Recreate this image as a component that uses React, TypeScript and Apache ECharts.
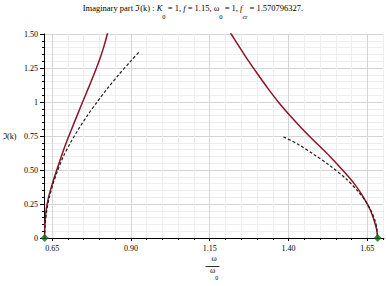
import React, { useEffect, useRef } from "react";
import * as echarts from "echarts";

// axis range (ω/ω0 and ℑ(k))
const xMin = 0.624;
const xMax = 1.703;
const yMin = 0;
const yMax = 1.5;
const xMajorTicks = [0.65, 0.9, 1.15, 1.4, 1.65];
const xMinorTicks = [0.65, 0.7, 0.75, 0.8, 0.85, 0.9, 0.95, 1.0, 1.05, 1.1, 1.15, 1.2, 1.25, 1.3, 1.35, 1.4, 1.45, 1.5, 1.55, 1.6, 1.65, 1.7];
const xTickLabels = ["0.65", "0.90", "1.15", "1.40", "1.65"];
const yTickLabels = ["0", "0.25", "0.50", "0.75", "1", "1.25", "1.50"];

// red solid curve, left branch
const redLeftX = [0.626, 0.6268, 0.6305, 0.6385, 0.6505, 0.6645, 0.679, 0.6945, 0.7115, 0.729, 0.7465, 0.7645, 0.782, 0.7985, 0.813, 0.825, 0.835];
const redLeftY = [0, 0.1, 0.2, 0.3, 0.4, 0.5, 0.6, 0.7, 0.8, 0.9, 1.0, 1.1, 1.2, 1.3, 1.4, 1.5, 1.6];
// red solid curve, right branch
const redRightX = [1.191, 1.218, 1.2455, 1.2735, 1.3035, 1.3345, 1.3675, 1.4045, 1.4445, 1.4875, 1.5315, 1.5715, 1.6085, 1.6375, 1.6605, 1.6755, 1.6805, 1.683];
const redRightY = [1.6, 1.5, 1.4, 1.3, 1.2, 1.1, 1.0, 0.9, 0.8, 0.7, 0.6, 0.5, 0.4, 0.3, 0.2, 0.1, 0.05, 0];
// black dashed curve, left branch
const dashLeftX = [0.626, 0.6277, 0.6327, 0.641, 0.653, 0.668, 0.6855, 0.708, 0.7335, 0.7615, 0.7925, 0.8255, 0.861, 0.899, 0.9255];
const dashLeftY = [0, 0.1, 0.2, 0.3, 0.4, 0.5, 0.6, 0.7, 0.8, 0.9, 1.0, 1.1, 1.2, 1.3, 1.367];
// black dashed curve, right branch
const dashRightX = [1.384, 1.43, 1.48, 1.53, 1.585, 1.62, 1.645, 1.665, 1.675, 1.68, 1.683];
const dashRightY = [0.743, 0.69, 0.615, 0.535, 0.43, 0.345, 0.27, 0.185, 0.125, 0.075, 0];
// green end points
const pointX = [0.6262, 1.683];
const pointY = [0, 0];

const zip = (xs: number[], ys: number[]) => xs.map((x, i) => [x, ys[i]]);

const SERIF = "'Liberation Serif', 'DejaVu Serif', serif";

export default function App() {
  const ref = useRef<HTMLDivElement>(null);
  useEffect(() => {
    if (!ref.current) return;
    const chart = echarts.init(ref.current, undefined, { renderer: "svg" });
    const option: any = {
      animation: false,
      backgroundColor: "#ffffff",
      title: {
        left: "center",
        top: 2,
        padding: 0,
        text: "Imaginary part ℑ(k) : {i|K}{s|0}{n| = 1, }{i|f}{n| = 1.15, ω}{s|0}{n| = 1, }{i|f}{s|cr}{n| = 1.570796327.}",
        textStyle: {
          fontFamily: SERIF,
          fontSize: 8.5,
          fontWeight: "normal",
          color: "#000",
          lineHeight: 12,
          rich: {
            n: { fontFamily: SERIF, fontSize: 8.5, color: "#000", lineHeight: 12 },
            i: { fontFamily: SERIF, fontSize: 8.5, fontStyle: "italic", color: "#000", lineHeight: 12 },
            s: { fontFamily: SERIF, fontSize: 6.5, color: "#000", lineHeight: 12, padding: [17, 0, 0, 0] },
          },
        },
      },
      grid: { left: 41, top: 34, right: 2, bottom: 45, containLabel: false },
      xAxis: [
        {
          type: "value",
          position: "bottom",
          min: xMin,
          max: xMax,
          axisLine: { show: true, onZero: false, lineStyle: { color: "#000", width: 1 } },
          axisTick: { show: true, length: 2, customValues: xMinorTicks, lineStyle: { color: "#000" } },
          axisLabel: { show: false },
          splitLine: { show: true, lineStyle: { color: "#eeeeee", width: 1 } },
          name: "{n|ω}\n{d|ω}{s|0}",
          nameLocation: "middle",
          nameGap: 14,
          nameTextStyle: {
            fontFamily: SERIF,
            fontSize: 8,
            color: "#000",
            lineHeight: 12,
            rich: {
              n: { fontFamily: SERIF, fontSize: 8, color: "#000", lineHeight: 12 },
              d: { fontFamily: SERIF, fontSize: 8, color: "#000", lineHeight: 12 },
              s: { fontFamily: SERIF, fontSize: 6, color: "#000", lineHeight: 12, padding: [16, 0, 0, 0] },
            },
          },
        },
        {
          type: "value",
          position: "bottom",
          min: xMin,
          max: xMax,
          axisLine: { show: false },
          axisTick: { show: true, length: 3, customValues: xMajorTicks, lineStyle: { color: "#000" } },
          axisLabel: {
            show: true,
            margin: 6,
            customValues: xMajorTicks,
            fontFamily: SERIF,
            fontSize: 8,
            color: "#000",
            formatter: (v: number) => {
              const s = v.toFixed(2);
              return xTickLabels.includes(s) ? s : "";
            },
          },
          splitLine: { show: true, lineStyle: { color: "#d4d4d4", width: 1 } },
        },
      ],
      yAxis: {
        type: "value",
        min: yMin,
        max: yMax,
        interval: 0.25,
        axisLine: { show: true, onZero: false, lineStyle: { color: "#000", width: 1 } },
        axisTick: { show: true, length: 4, lineStyle: { color: "#000" } },
        minorTick: { show: true, splitNumber: 5, length: 2, lineStyle: { color: "#000" } },
        minorSplitLine: { show: true, lineStyle: { color: "#eeeeee", width: 1 } },
        splitLine: { show: true, lineStyle: { color: "#d4d4d4", width: 1 } },
        axisLabel: {
          margin: 6,
          fontFamily: SERIF,
          fontSize: 8,
          color: "#000",
          formatter: (v: number) => {
            const idx = Math.round(v / 0.25);
            return yTickLabels[idx] ?? "";
          },
        },
        name: "ℑ(k)",
        nameLocation: "middle",
        nameRotate: 0,
        nameGap: 41,
        nameMoveOverlap: false,
        nameTextStyle: { fontFamily: SERIF, fontSize: 8, color: "#000", align: "left", verticalAlign: "middle" },
      },
      graphic: [
        {
          type: "line",
          shape: { x1: 205.5, y1: 266.5, x2: 219.5, y2: 266.5 },
          style: { stroke: "#000", lineWidth: 0.8 },
          silent: true,
        },
      ],
      series: [
        {
          type: "line",
          xAxisIndex: 0,
          data: zip(redLeftX, redLeftY),
          showSymbol: false,
          smooth: 0.3,
          lineStyle: { color: "#8e1326", width: 1.5 },
          z: 2,
        },
        {
          type: "line",
          xAxisIndex: 0,
          data: zip(redRightX, redRightY),
          showSymbol: false,
          smooth: 0.3,
          lineStyle: { color: "#8e1326", width: 1.5 },
          z: 2,
        },
        {
          type: "line",
          xAxisIndex: 0,
          data: zip(dashLeftX, dashLeftY),
          showSymbol: false,
          smooth: 0.3,
          lineStyle: { color: "#222", width: 1.2, type: [3, 2] },
          z: 3,
        },
        {
          type: "line",
          xAxisIndex: 0,
          data: zip(dashRightX, dashRightY),
          showSymbol: false,
          smooth: 0.3,
          lineStyle: { color: "#222", width: 1.2, type: [3, 2] },
          z: 3,
        },
        {
          type: "scatter",
          xAxisIndex: 0,
          data: zip(pointX, pointY),
          symbol: "diamond",
          symbolSize: 8,
          itemStyle: { color: "#0c6b1a" },
          clip: false,
          z: 5,
        },
      ],
    };
    chart.setOption(option);
    return () => chart.dispose();
  }, []);
  return <div ref={ref} style={{ width: 386, height: 286, position: "fixed", left: 0, top: 0 }} />;
}
